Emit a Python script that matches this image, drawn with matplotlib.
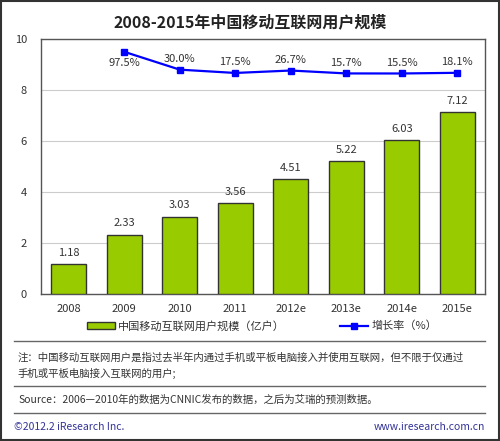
import matplotlib
matplotlib.use('Agg')
import matplotlib.pyplot as plt
from matplotlib.patches import Rectangle
from matplotlib.lines import Line2D

plt.rcParams['font.family'] = ['Noto Sans CJK SC', 'DejaVu Sans']

years = ['2008', '2009', '2010', '2011', '2012e', '2013e', '2014e', '2015e']
users = [1.18, 2.33, 3.03, 3.56, 4.51, 5.22, 6.03, 7.12]
growth_years = years[1:]
growth = [97.5, 30.0, 17.5, 26.7, 15.7, 15.5, 18.1]

bar_color = '#99CC00'
line_color = '#0000FF'
text_color = '#333333'

fig = plt.figure(figsize=(5, 4.41), dpi=100)
W, H = 500, 441

def fx(px):
    return px / W

def fy(py):
    return 1 - py / H

ax = fig.add_axes([fx(41), fy(294), fx(485) - fx(41), fy(39) - fy(294)])
x = list(range(len(years)))
ax.bar(x, users, width=0.63, color=bar_color, edgecolor='#333333', linewidth=1, zorder=3)
for xi, v in zip(x, users):
    ax.text(xi, v + 0.25, '%.2f' % v, ha='center', va='bottom', fontsize=8, color=text_color)
ax.set_xlim(-0.5, 7.5)
ax.set_ylim(0, 10)
ax.set_yticks([0, 2, 4, 6, 8, 10])
ax.set_xticks(x)
ax.set_xticklabels(years)
ax.tick_params(length=0, labelsize=8, colors=text_color)
ax.tick_params(axis='y', pad=10)
ax.tick_params(axis='x', pad=7)
ax.grid(axis='y', color='#cccccc', linewidth=0.8, zorder=0)
for s in ax.spines.values():
    s.set_color('#555555')
    s.set_linewidth(1)

# growth rate on a hidden secondary axis
ax2 = ax.twinx()
gx = [years.index(y) for y in growth_years]
ax2.plot(gx, growth, color=line_color, marker='s', markersize=5, linewidth=1.6, zorder=4)
ax2.set_ylim(-819, 146)
ax2.set_yticks([])
for s in ax2.spines.values():
    s.set_visible(False)
for i, (xi, g) in enumerate(zip(gx, growth)):
    if i == 0:
        ax2.text(xi, g - 22, '%.1f%%' % g, ha='center', va='top', fontsize=8, color=text_color)
    else:
        ax2.text(xi, g + 22, '%.1f%%' % g, ha='center', va='bottom', fontsize=8, color=text_color)

fig.text(0.5, fy(22), '2008-2015年中国移动互联网用户规模', ha='center', va='center',
         fontsize=11.5, fontweight='bold', color='#222222')

# legend
handles = [Rectangle((0, 0), 1, 1, facecolor=bar_color, edgecolor='#333333'),
           Line2D([0], [0], color=line_color, marker='s', markersize=5, linewidth=1.6)]
fig.legend(handles, ['中国移动互联网用户规模（亿户）', '增长率（%）'], ncol=2,
           loc='center', bbox_to_anchor=(fx(262), fy(326)), frameon=False, fontsize=8,
           handlelength=2.5, handleheight=0.5, columnspacing=5, handletextpad=0.3,
           labelcolor=text_color)

for py in [341, 386, 413]:
    fig.add_artist(Line2D([fx(14), fx(485)], [fy(py), fy(py)], color='#666666', linewidth=1))

fig.text(fx(18), fy(358), '注：中国移动互联网用户是指过去半年内通过手机或平板电脑接入并使用互联网，但不限于仅通过',
         fontsize=7.5, va='center', color=text_color)
fig.text(fx(18), fy(373), '手机或平板电脑接入互联网的用户;', fontsize=7.5, va='center', color=text_color)
fig.text(fx(18), fy(400), 'Source：2006—2010年的数据为CNNIC发布的数据，之后为艾瑞的预测数据。',
         fontsize=7.5, va='center', color=text_color)
fig.text(fx(14), fy(427), '©2012.2 iResearch Inc.', fontsize=7.5, va='center', color='#333399')
fig.text(fx(485), fy(427), 'www.iresearch.com.cn', fontsize=7.5, va='center', ha='right', color='#333399')

fig.add_artist(Rectangle((0.002, 0.002), 0.996, 0.996, transform=fig.transFigure,
                         fill=False, edgecolor='#333333', linewidth=1.5))

plt.savefig('out.png', dpi=100)
plt.close(fig)
